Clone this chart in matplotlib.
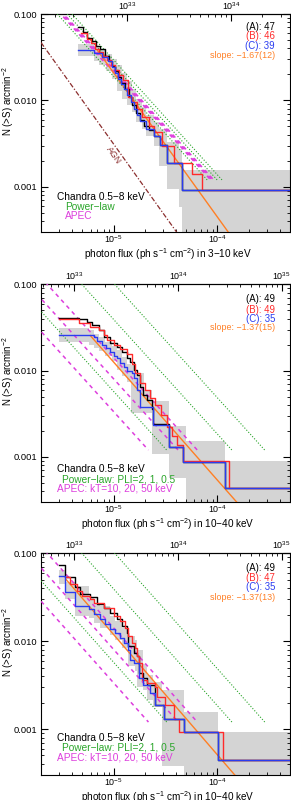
import numpy as np
import matplotlib
matplotlib.use('Agg')
import matplotlib.pyplot as plt
from matplotlib.ticker import FormatStrFormatter, NullFormatter

plt.rcParams['font.family'] = ['Liberation Sans', 'DejaVu Sans']
plt.rcParams['mathtext.fontset'] = 'custom'
plt.rcParams['mathtext.rm'] = 'Liberation Sans'
plt.rcParams['mathtext.it'] = 'Liberation Sans:italic'
plt.rcParams['font.size'] = 6.7

# ---------------- data ----------------
s_min, s_max = 2e-6, 5e-4
n_min, n_max = 3e-4, 0.1

# panel 1 : 3-10 keV
p1_flux_a = [4.58e-6, 5.12e-6, 5.58e-6, 6.24e-6, 6.82e-6, 7.45e-6, 8.32e-6, 9.09e-6, 9.71e-6, 1.04e-5,
             1.11e-5, 1.19e-5, 1.30e-5, 1.42e-5, 1.51e-5, 1.65e-5, 1.81e-5, 1.97e-5, 2.20e-5, 2.46e-5,
             2.81e-5, 3.28e-5, 4.53e-5]
p1_n_a = [0.0702, 0.0614, 0.0524, 0.0483, 0.0423, 0.0391, 0.0324, 0.0284, 0.0248, 0.0218,
          0.0185, 0.0158, 0.0135, 0.0109, 0.00881, 0.00711, 0.00590, 0.00503, 0.00452, 0.00385,
          0.00303, 0.00187, 0.00092]
p1_flux_b = [4.89e-6, 5.58e-6, 6.11e-6, 6.67e-6, 7.29e-6, 7.96e-6, 8.69e-6, 9.50e-6, 1.04e-5, 1.13e-5,
             1.24e-5, 1.37e-5, 1.51e-5, 1.69e-5, 1.89e-5, 2.20e-5, 2.46e-5, 2.94e-5, 3.83e-5, 5.75e-5,
             7.18e-5]
p1_n_b = [0.0598, 0.0510, 0.0459, 0.0391, 0.0361, 0.0324, 0.0292, 0.0255, 0.0223, 0.0195,
          0.0171, 0.0109, 0.00953, 0.00792, 0.00640, 0.00503, 0.00429, 0.00296, 0.00191, 0.00140,
          0.00092]
p1_flux_c = [4.58e-6, 6.52e-6, 7.78e-6, 8.89e-6, 9.71e-6, 1.04e-5, 1.11e-5, 1.19e-5, 1.27e-5, 1.36e-5,
             1.48e-5, 1.58e-5, 1.69e-5, 1.81e-5, 2.06e-5, 2.46e-5, 2.81e-5, 3.28e-5, 4.53e-5]
p1_n_c = [0.0384, 0.0351, 0.0316, 0.0284, 0.0242, 0.0206, 0.0176, 0.0154, 0.0135, 0.0115,
          0.00953, 0.00792, 0.00675, 0.00575, 0.00465, 0.00385, 0.00303, 0.00187, 0.00092]
p1_band_flux = [4.58e-6, 6.52e-6, 7.29e-6, 8.51e-6, 9.71e-6, 1.09e-5, 1.21e-5, 1.36e-5, 1.51e-5, 1.65e-5,
                1.89e-5, 2.06e-5, 2.46e-5, 2.75e-5, 3.28e-5, 4.28e-5, 4.53e-5]
p1_band_hi = [0.0447, 0.0423, 0.0391, 0.0342, 0.0299, 0.0255, 0.0206, 0.0167, 0.0135, 0.0103,
              0.00834, 0.00675, 0.00560, 0.00465, 0.00329, 0.00273, 0.00157]
p1_band_lo = [0.0327, 0.0286, 0.0255, 0.0218, 0.0176, 0.0129, 0.0103, 0.00881, 0.00731, 0.00560,
              0.00465, 0.00389, 0.00298, 0.00175, 0.00094, 0.00058, 1e-5]

# panel 2 : 10-40 keV
p2_flux_a = [2.96e-6, 4.61e-6, 5.55e-6, 6.20e-6, 7.18e-6, 8.01e-6, 9.29e-6, 1.078e-5, 1.205e-5, 1.345e-5,
             1.45e-5, 1.56e-5, 1.68e-5, 1.81e-5, 1.94e-5, 2.095e-5, 2.34e-5, 2.42e-5, 3.38e-5, 4.71e-5,
             1.19e-4]
p2_n_a = [0.0411, 0.0393, 0.0369, 0.0337, 0.0295, 0.0247, 0.0207, 0.0189, 0.0166, 0.0139,
          0.0127, 0.0101, 0.00887, 0.00651, 0.00520, 0.00455, 0.00364, 0.00244, 0.00131, 0.000877,
          0.000436]
p2_flux_b = [2.96e-6, 4.61e-6, 5.97e-6, 7.18e-6, 8.01e-6, 8.64e-6, 1.0e-5, 1.16e-5, 1.345e-5, 1.50e-5,
             1.62e-5, 1.81e-5, 2.02e-5, 2.25e-5, 2.52e-5, 2.86e-5, 3.30e-5, 3.69e-5, 4.07e-5, 4.61e-5,
             1.30e-4]
p2_n_b = [0.0403, 0.0353, 0.0323, 0.0295, 0.0258, 0.0226, 0.0198, 0.0180, 0.0158, 0.0121,
          0.00928, 0.00711, 0.00594, 0.00476, 0.00398, 0.00305, 0.00225, 0.00173, 0.00139, 0.00089,
          0.000436]
p2_flux_c = [2.96e-6, 6.42e-6, 6.97e-6, 7.74e-6, 8.51e-6, 9.29e-6, 1.016e-5, 1.078e-5, 1.16e-5, 1.25e-5,
             1.355e-5, 1.50e-5, 1.58e-5, 1.68e-5, 1.81e-5, 2.42e-5, 3.38e-5, 4.71e-5, 1.19e-4]
p2_n_c = [0.0258, 0.0243, 0.0224, 0.0198, 0.0181, 0.0166, 0.0150, 0.0139, 0.0124, 0.0111,
          0.0100, 0.00928, 0.00833, 0.00594, 0.00381, 0.00233, 0.00131, 0.000877, 0.000436]
p2_band_flux = [2.96e-6, 5.84e-6, 6.52e-6, 7.29e-6, 8.32e-6, 9.71e-6, 1.086e-5, 1.21e-5, 1.355e-5, 1.47e-5,
                1.65e-5, 1.97e-5, 2.36e-5, 3.38e-5, 4.97e-5, 1.19e-4]
p2_band_hi = [0.0315, 0.0293, 0.0270, 0.0243, 0.0218, 0.0196, 0.0172, 0.0146, 0.0121, 0.0115,
              0.0095, 0.0060, 0.0045, 0.00227, 0.00152, 0.00089]
p2_band_lo = [0.0214, 0.0201, 0.0184, 0.0167, 0.0147, 0.0128, 0.0103, 0.00879, 0.00730, 0.00319,
              0.00319, 0.00319, 0.00107, 0.000577, 1e-5, 1e-5]

# panel 3 : 10-40 keV
p3_flux_a = [2.96e-6, 3.43e-6, 4.28e-6, 4.78e-6, 5.97e-6, 6.92e-6, 8.01e-6, 9.29e-6, 1.078e-5, 1.205e-5,
             1.345e-5, 1.39e-5, 1.56e-5, 1.68e-5, 1.74e-5, 1.94e-5, 2.095e-5, 2.52e-5, 3.03e-5, 4.78e-5,
             1.02e-4]
p3_n_a = [0.0728, 0.0534, 0.0410, 0.0343, 0.0315, 0.0264, 0.0241, 0.0211, 0.0177, 0.0149,
          0.0125, 0.00877, 0.00734, 0.00673, 0.00432, 0.00379, 0.00317, 0.00187, 0.00131, 0.000914,
          0.000444]
p3_flux_b = [3.48e-6, 3.84e-6, 4.45e-6, 4.97e-6, 5.97e-6, 6.42e-6, 8.01e-6, 1.0e-5, 1.16e-5, 1.30e-5,
             1.39e-5, 1.50e-5, 1.62e-5, 1.68e-5, 1.74e-5, 1.875e-5, 2.095e-5, 2.52e-5, 2.61e-5, 3.14e-5,
             3.78e-5, 4.28e-5, 1.14e-4]
p3_n_b = [0.0538, 0.0448, 0.0376, 0.0329, 0.0301, 0.0275, 0.0241, 0.0194, 0.0170, 0.0142,
          0.0114, 0.00956, 0.00838, 0.00673, 0.00564, 0.00362, 0.00332, 0.00304, 0.00233, 0.00187,
          0.00131, 0.000914, 0.000444]
p3_flux_c = [2.96e-6, 3.43e-6, 4.28e-6, 5.75e-6, 6.42e-6, 7.45e-6, 8.32e-6, 9.29e-6, 1.038e-5, 1.16e-5,
             1.25e-5, 1.39e-5, 1.45e-5, 1.56e-5, 1.74e-5, 1.94e-5, 2.25e-5, 2.52e-5, 3.03e-5, 4.78e-5,
             1.02e-4]
p3_n_c = [0.0548, 0.0359, 0.0252, 0.0231, 0.0202, 0.0177, 0.0155, 0.0136, 0.0125, 0.0109,
          0.00956, 0.00800, 0.00615, 0.00564, 0.00379, 0.00317, 0.00255, 0.00187, 0.00131, 0.000914,
          0.000444]
p3_band_flux = [2.96e-6, 3.43e-6, 4.28e-6, 5.75e-6, 6.42e-6, 7.45e-6, 9.29e-6, 1.038e-5, 1.205e-5, 1.39e-5,
                1.62e-5, 1.68e-5, 1.94e-5, 2.095e-5, 2.42e-5, 2.95e-5, 4.78e-5, 1.02e-4]
p3_band_hi = [0.0638, 0.0468, 0.0429, 0.0315, 0.0275, 0.0252, 0.0194, 0.0170, 0.0142, 0.0114,
              0.0104, 0.00800, 0.00548, 0.00413, 0.00347, 0.00275, 0.00155, 0.000914]
p3_band_lo = [0.0448, 0.0298, 0.0194, 0.0185, 0.0162, 0.0142, 0.0119, 0.0104, 0.00838, 0.00516,
              0.00452, 0.00304, 0.00278, 0.00213, 0.00179, 0.000378, 1e-5, 1e-5]

# model lines: flux where N(>S) = 0.01
model_slope = -1.33
model_n_ref = 0.01
model_n_end = 1.2e-3
p1_pl_ref = [1.62e-5, 2.02e-5, 2.25e-5]
p1_apec_ref = [1.75e-5, 1.81e-5, 1.87e-5]
p23_pl_ref = [6.6e-6, 2.8e-5, 5.8e-5]
p23_apec_ref = [4.4e-6, 8.5e-6, 1.3e-5]

# fitted power laws: N = norm * (S / 1e-5) ** slope
fit_slope = [-1.67, -1.37, -1.37]
fit_norm = [0.0209, 0.0126, 0.0119]
fit_start = [7.0e-6, 5.97e-6, 3.5e-6]
fit_text = ['slope: \u22121.67(12)', 'slope: \u22121.37(15)', 'slope: \u22121.37(13)']

agn_slope = -1.68
agn_norm = 0.00313
agn_start = 2.0e-6

counts = [[47, 46, 39], [49, 49, 35], [49, 47, 35]]
lum_factor = [7.4e37, 2.4e38, 2.4e38]
band_names = ['3\u221210 keV', '10\u221240 keV', '10\u221240 keV']
legend_p1 = ['Chandra 0.5\u22128 keV', 'Power\u2212law', 'APEC']
legend_p23 = ['Chandra 0.5\u22128 keV', 'Power\u2212law: PLI=2, 1, 0.5', 'APEC: kT=10, 20, 50 keV']

# ---------------- style ----------------
c_black = 'black'
c_red = '#ff2a2a'
c_blue = '#2a3cf0'
c_orange = '#ff7f24'
c_green = '#2aa52a'
c_mag = '#dd3edd'
c_agn = '#8b2e2e'
c_band = '#d4d4d4'

panels = [
    dict(a=(p1_flux_a, p1_n_a), b=(p1_flux_b, p1_n_b), c=(p1_flux_c, p1_n_c),
         band=(p1_band_flux, p1_band_hi, p1_band_lo), pl=p1_pl_ref, apec=p1_apec_ref,
         legend=legend_p1, rect=[0.1409, 0.710, 0.8557, 0.2725],
         txt_y=[0.942, 0.899, 0.855, 0.809], leg_pos=[(0.063, 0.162), (0.096, 0.116), (0.096, 0.073)]),
    dict(a=(p2_flux_a, p2_n_a), b=(p2_flux_b, p2_n_b), c=(p2_flux_c, p2_n_c),
         band=(p2_band_flux, p2_band_hi, p2_band_lo), pl=p23_pl_ref, apec=p23_apec_ref,
         legend=legend_p23, rect=[0.1409, 0.3725, 0.8557, 0.2719],
         txt_y=[0.932, 0.883, 0.840, 0.800], leg_pos=[(0.063, 0.150), (0.083, 0.104), (0.063, 0.061)]),
    dict(a=(p3_flux_a, p3_n_a), b=(p3_flux_b, p3_n_b), c=(p3_flux_c, p3_n_c),
         band=(p3_band_flux, p3_band_hi, p3_band_lo), pl=p23_pl_ref, apec=p23_apec_ref,
         legend=legend_p23, rect=[0.1409, 0.0313, 0.8557, 0.2771],
         txt_y=[0.932, 0.890, 0.847, 0.800], leg_pos=[(0.063, 0.166), (0.083, 0.123), (0.063, 0.080)]),
]


def stair(ax, flux, n, color, lw=1.0, z=5):
    s = np.append(flux, s_max)
    v = np.append(n, n[-1])
    ax.step(s, v, where='post', color=color, lw=lw, zorder=z)


def model_line(ax, s_ref, color, ls, lw):
    s_lo = s_ref * (n_max * 2 / model_n_ref) ** (1.0 / model_slope)
    s_hi = s_ref * (model_n_end / model_n_ref) ** (1.0 / model_slope)
    s = np.array([s_lo, s_hi])
    ax.plot(s, model_n_ref * (s / s_ref) ** model_slope, color=color, ls=ls, lw=lw, zorder=3)


fig = plt.figure(figsize=(2.91, 8.0), dpi=100)

for i, p in enumerate(panels):
    ax = fig.add_axes(p['rect'])
    ax.set_xscale('log')
    ax.set_yscale('log')

    bs, bh, bl = p['band']
    bs2 = np.append(bs, s_max)
    ax.fill_between(bs2, np.append(bl, bl[-1]), np.append(bh, bh[-1]), step='post',
                    color=c_band, lw=0, zorder=1)

    for r in p['pl']:
        model_line(ax, r, c_green, (0, (1, 1.6)), 0.8)
    for r in p['apec']:
        model_line(ax, r, c_mag, (0, (2.6, 2.6)), 1.1)

    if i == 0:
        s = np.array([agn_start, s_max])
        ax.plot(s, agn_norm * (s / 1e-5) ** agn_slope, color=c_agn, lw=0.9,
                ls=(0, (4, 1.5, 1, 1.5)), zorder=3)
        ax.text(0.293, 0.353, 'AGN', rotation=-54.5, color=c_agn, ha='center', va='center',
                rotation_mode='anchor', transform=ax.transAxes, fontsize=6.3)

    s = np.array([fit_start[i], s_max])
    ax.plot(s, fit_norm[i] * (s / 1e-5) ** fit_slope[i], color=c_orange, lw=1.0, zorder=4)

    stair(ax, *p['a'], c_black)
    stair(ax, *p['b'], c_red, z=6)
    stair(ax, *p['c'], c_blue, z=7)

    ax.set_xlim(s_min, s_max)
    ax.set_ylim(n_min, n_max)

    ax.yaxis.set_major_formatter(FormatStrFormatter('%.3f'))
    ax.yaxis.set_minor_formatter(NullFormatter())
    ax.tick_params(which='both', direction='in', right=True, top=False, labelsize=6.7)
    ax.tick_params(which='major', length=5, width=0.8, pad=2.5)
    ax.tick_params(axis='x', which='major', pad=1.0, labelsize=6.4)
    ax.tick_params(which='minor', length=2.5, width=0.6)
    for sp in ax.spines.values():
        sp.set_linewidth(0.8)

    f = lum_factor[i]
    sec = ax.secondary_xaxis('top', functions=(lambda x, f=f: x * f, lambda x, f=f: x / f))
    sec.tick_params(which='both', direction='in', labelsize=6.4, pad=1.5)
    sec.tick_params(which='major', length=5, width=0.8)
    sec.tick_params(which='minor', length=2.5, width=0.6)

    ax.set_ylabel('N (>S) arcmin$^{-2}$', fontsize=7.0)
    ax.yaxis.set_label_coords(-0.10, 0.6)
    ax.set_xlabel('photon flux (ph s$^{-1}$ cm$^{-2}$) in ' + band_names[i], fontsize=7.2)
    ax.xaxis.set_label_coords(0.51, -0.064)

    ca, cb, cc = counts[i]
    labels = ['(A): %d' % ca, '(B): %d' % cb, '(C): %d' % cc, fit_text[i]]
    sizes = [6.9, 6.9, 6.9, 6.4]
    for lab, col, y, fs in zip(labels, [c_black, c_red, c_blue, c_orange], p['txt_y'], sizes):
        ax.text(0.94, y, lab, color=col, ha='right', va='center', transform=ax.transAxes, fontsize=fs)

    for lab, col, (x, y) in zip(p['legend'], [c_black, c_green, c_mag], p['leg_pos']):
        ax.text(x, y, lab, color=col, ha='left', va='center', transform=ax.transAxes, fontsize=7.3)

fig.savefig('out.png', dpi=100)
